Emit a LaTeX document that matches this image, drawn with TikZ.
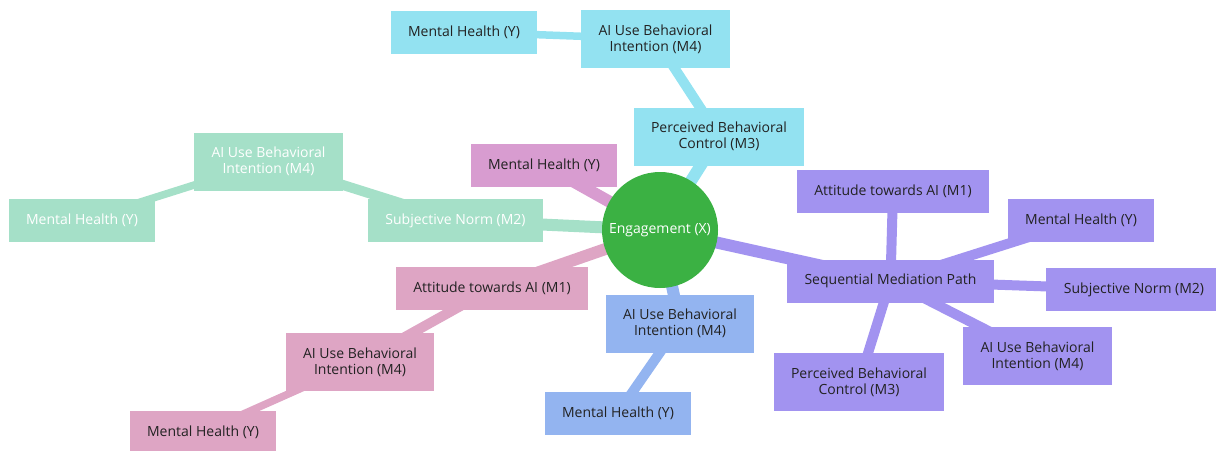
\documentclass[tikz,border=0pt]{standalone}
\usepackage{fontspec}
\setmainfont{Open Sans}
\usetikzlibrary{backgrounds}
\definecolor{rootgreen}{HTML}{3BB143}
\definecolor{cyanbr}{HTML}{93E2F1}
\definecolor{magbr}{HTML}{D89CD0}
\definecolor{mintbr}{HTML}{A5E0C8}
\definecolor{pinkbr}{HTML}{DEA5C4}
\definecolor{bluebr}{HTML}{93B4F0}
\definecolor{purplebr}{HTML}{A293F0}
\definecolor{textdark}{HTML}{222222}
\begin{document}
\begin{tikzpicture}[x=1pt,y=-1pt,
  box/.style={rectangle, inner xsep=17.5pt, inner ysep=0pt, minimum height=43pt,
    align=center, font=\fontsize{14}{16}\selectfont, text=textdark},
  tall/.style={box, minimum height=58pt},
  lighttext/.style={text=white},
  e0/.style={line width=12pt},
  e1/.style={line width=10pt},
  e2/.style={line width=7.5pt},
]
\useasboundingbox (0,0) rectangle (1216,450);

% root
\node[circle, fill=rootgreen, minimum size=116pt, inner sep=0pt, text=white,
  font=\fontsize{14}{16}\selectfont] (root) at (660,230) {Engagement (X)};

% cyan branch
\node[tall, fill=cyanbr] (cM3) at (719,136.5) {Perceived Behavioral\\Control (M3)};
\node[tall, fill=cyanbr] (cM4) at (655.5,39) {AI Use Behavioral\\Intention (M4)};
\node[box, fill=cyanbr] (cMH) at (464,32) {Mental Health (Y)};

% magenta leaf
\node[box, fill=magbr] (mMH) at (544,165) {Mental Health (Y)};

% mint branch
\node[box, lighttext, fill=mintbr] (gSN) at (455.5,220.5) {Subjective Norm (M2)};
\node[tall, lighttext, fill=mintbr] (gM4) at (268.5,161.5) {AI Use Behavioral\\Intention (M4)};
\node[box, lighttext, fill=mintbr] (gMH) at (82,220.5) {Mental Health (Y)};

% pink branch
\node[box, fill=pinkbr] (pM1) at (492,288.5) {Attitude towards AI (M1)};
\node[tall, fill=pinkbr] (pM4) at (360,362) {AI Use Behavioral\\Intention (M4)};
\node[box, fill=pinkbr] (pMH) at (203,432) {Mental Health (Y)};

% blue branch
\node[tall, fill=bluebr] (bM4) at (680,323.5) {AI Use Behavioral\\Intention (M4)};
\node[box, fill=bluebr] (bMH) at (618,413) {Mental Health (Y)};

% purple branch
\node[box, fill=purplebr] (sMP) at (890.5,281) {Sequential Mediation Path};
\node[box, fill=purplebr] (sM1) at (893,191.5) {Attitude towards AI (M1)};
\node[box, fill=purplebr] (sMH) at (1081,220.5) {Mental Health (Y)};
\node[box, fill=purplebr] (sSN) at (1134,289.5) {Subjective Norm (M2)};
\node[tall, fill=purplebr] (sM4) at (1037.5,356) {AI Use Behavioral\\Intention (M4)};
\node[tall, fill=purplebr] (sM3) at (859,382) {Perceived Behavioral\\Control (M3)};

% connectors, centre to centre, behind the nodes
\begin{scope}[on background layer]
  \draw[e0, cyanbr] (root.center) -- (cM3.center);
  \draw[e1, cyanbr] (cM3.center) -- (cM4.center);
  \draw[e2, cyanbr] (cM4.center) -- (cMH.center);

  \draw[e0, magbr] (root.center) -- (mMH.center);

  \draw[e0, mintbr] (root.center) -- (gSN.center);
  \draw[e1, mintbr] (gSN.center) -- (gM4.center);
  \draw[e2, mintbr] (gM4.center) -- (gMH.center);

  \draw[e0, pinkbr] (root.center) -- (pM1.center);
  \draw[e1, pinkbr] (pM1.center) -- (pM4.center);
  \draw[e2, pinkbr] (pM4.center) -- (pMH.center);

  \draw[e0, bluebr] (root.center) -- (bM4.center);
  \draw[e1, bluebr] (bM4.center) -- (bMH.center);

  \draw[e0, purplebr] (root.center) -- (sMP.center);
  \draw[e1, purplebr] (sMP.center) -- (sM1.center);
  \draw[e1, purplebr] (sMP.center) -- (sMH.center);
  \draw[e1, purplebr] (sMP.center) -- (sSN.center);
  \draw[e1, purplebr] (sMP.center) -- (sM4.center);
  \draw[e1, purplebr] (sMP.center) -- (sM3.center);
\end{scope}
\end{tikzpicture}
\end{document}
